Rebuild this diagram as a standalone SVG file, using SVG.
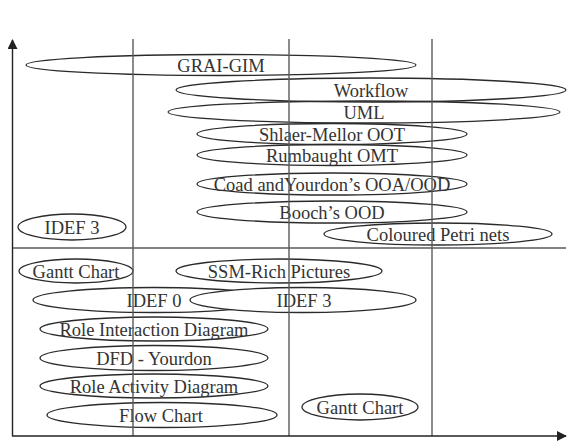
<svg xmlns="http://www.w3.org/2000/svg" width="568" height="446" viewBox="0 0 568 446">
  <style>
    .grid { stroke: #5a5a5a; stroke-width: 1.4; fill: none; }
    .axis { stroke: #222; stroke-width: 1.4; fill: none; }
    .node ellipse { fill: none; stroke: #2a2a2a; stroke-width: 1.3; }
    .node ellipse.opaque { fill: #fff; }
    .node text { font-family: "Liberation Serif", "Times New Roman", serif; font-size: 18.5px; fill: #333; text-anchor: middle; }
  </style>
  <defs>
    <marker id="arrow" viewBox="0 0 10 10" refX="9" refY="5" markerWidth="10" markerHeight="10" markerUnits="userSpaceOnUse" orient="auto">
      <path d="M0,0 L10,5 L0,10 z" fill="#222"/>
    </marker>
  </defs>
  <rect width="568" height="446" fill="#fff"/>

  <!-- upper half -->
  <g id="grai-gim" class="node"><ellipse cx="221" cy="65" rx="195" ry="10.5"/><text x="221" y="72">GRAI-GIM</text></g>
  <g id="workflow" class="node"><ellipse cx="371" cy="90" rx="195" ry="12"/><text x="371" y="97">Workflow</text></g>
  <g id="uml" class="node"><ellipse cx="364" cy="112" rx="196" ry="11"/><text x="364" y="119">UML</text></g>
  <g id="shlaer-mellor" class="node"><ellipse cx="332" cy="134" rx="135" ry="10.5"/><text x="332" y="141">Shlaer-Mellor OOT</text></g>
  <g id="rumbaught" class="node"><ellipse cx="332" cy="155" rx="135" ry="10.5"/><text x="332" y="162">Rumbaught OMT</text></g>
  <g id="coad-yourdon" class="node"><ellipse cx="332" cy="184" rx="135" ry="11"/><text x="332" y="191">Coad andYourdon’s OOA/OOD</text></g>
  <g id="booch" class="node"><ellipse cx="332" cy="212" rx="135" ry="11"/><text x="332" y="219">Booch’s OOD</text></g>
  <g id="petri-nets" class="node"><ellipse cx="438" cy="234" rx="114" ry="11"/><text x="438" y="241">Coloured Petri nets</text></g>
  <g id="idef3-top" class="node"><ellipse cx="72" cy="227" rx="54" ry="13"/><text x="72" y="234">IDEF 3</text></g>

  <!-- lower half -->
  <g id="gantt-left" class="node"><ellipse cx="76" cy="271" rx="57" ry="12"/><text x="76" y="278">Gantt Chart</text></g>
  <g id="ssm-rich-pictures" class="node"><ellipse cx="279" cy="271" rx="103" ry="12"/><text x="279" y="278">SSM-Rich Pictures</text></g>
  <g id="idef0" class="node"><ellipse cx="154" cy="300" rx="121" ry="12.5"/><text x="154" y="307">IDEF 0</text></g>
  <!-- drawn over the right end of IDEF 0 -->
  <g id="idef3-bottom" class="node"><ellipse class="opaque" cx="303" cy="300" rx="113" ry="12.5"/><text x="304" y="307">IDEF 3</text></g>
  <g id="role-interaction" class="node"><ellipse cx="154" cy="329" rx="114" ry="12"/><text x="154" y="336">Role Interaction Diagram</text></g>
  <g id="dfd-yourdon" class="node"><ellipse cx="154" cy="358" rx="114" ry="12.5"/><text x="154" y="365">DFD - Yourdon</text></g>
  <g id="role-activity" class="node"><ellipse cx="154" cy="386" rx="114" ry="12"/><text x="154" y="393">Role Activity Diagram</text></g>
  <g id="flow-chart" class="node"><ellipse cx="162" cy="415" rx="115" ry="12.5"/><text x="161" y="422">Flow Chart</text></g>
  <g id="gantt-right" class="node"><ellipse cx="360" cy="407" rx="58" ry="13"/><text x="360" y="414">Gantt Chart</text></g>

  <!-- quadrant grid, on top of the ellipses -->
  <g id="grid">
    <line class="grid" x1="133" y1="39" x2="133" y2="436"/>
    <line class="grid" x1="289" y1="39" x2="289" y2="436"/>
    <line class="grid" x1="432" y1="39" x2="432" y2="436"/>
    <line class="grid" x1="12" y1="248" x2="566" y2="248"/>
  </g>

  <!-- axes -->
  <g id="connectors">
    <line class="axis" x1="12.5" y1="436" x2="12.5" y2="40" marker-end="url(#arrow)"/>
    <line class="axis" x1="12" y1="436" x2="566" y2="436" marker-end="url(#arrow)"/>
  </g>
</svg>
